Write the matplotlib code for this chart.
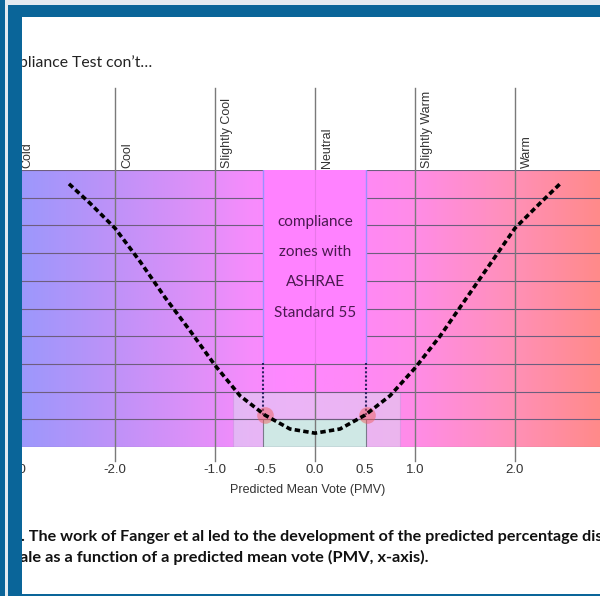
import matplotlib
matplotlib.use("Agg")
import matplotlib.pyplot as plt
import numpy as np
from matplotlib.colors import LinearSegmentedColormap
from matplotlib.patches import Rectangle

# PPD curve (PMV, PPD %)
pmv = [-2.46, -2.25, -2.0, -1.75, -1.5, -1.25, -1.0, -0.75, -0.5, -0.25, 0.0,
       0.25, 0.5, 0.75, 1.0, 1.25, 1.5, 1.75, 2.0, 2.25, 2.45]
ppd = [95, 88, 79, 67, 54, 42, 29.5, 18.5, 11.5, 6.5, 5,
       6.5, 11.5, 18.5, 28.5, 40, 53, 66, 79, 88, 95]

sensation_pos = [-3, -2, -1, 0, 1, 2]
sensation_names = ["Cold", "Cool", "Slightly Cool", "Neutral", "Slightly Warm", "Warm"]

tick_pos = [-3.0, -2.0, -1.0, -0.5, 0.0, 0.5, 1.0, 2.0]
tick_labels = ["-3.0", "-2.0", "-1.0", "-0.5", "0.0", "0.5", "1.0", "2.0"]

zone_lines = ["compliance", "zones with", "ASHRAE", "Standard 55"]

W, H = 600, 596
BLUE = "#0a6599"

fig = plt.figure(figsize=(W / 100, H / 100), dpi=100)
fig.patch.set_facecolor("white")

def px(x0, y0, x1, y1):
    # pixel box (top-left origin) -> figure fraction rect
    return [x0 / W, 1 - y1 / H, (x1 - x0) / W, (y1 - y0) / H]

ax = fig.add_axes(px(15, 170, 600, 447))
ax.set_xlim(-3.0, 2.85)
ax.set_ylim(0, 100)
for s in ax.spines.values():
    s.set_visible(False)

# horizontal colour gradient background
cmap = LinearSegmentedColormap.from_list("pmv", [
    (0.00, "#9a98fc"), (0.17, "#bf92f8"), (0.30, "#dc90f8"),
    (0.40, "#f68cfc"), (0.46, "#ff88ff"), (0.58, "#ff88f8"),
    (0.68, "#ff8ce8"), (0.85, "#ff90b8"), (1.00, "#ff8a8a")])
grad = np.linspace(0, 1, 256).reshape(1, -1)
ax.imshow(grad, cmap=cmap, aspect="auto", extent=(-3.0, 2.85, 0, 100), zorder=0)

# light zone and compliance rectangle
ax.add_patch(Rectangle((-0.82, 0), 1.67, 20, facecolor="#d8e0f0", alpha=0.5,
                       edgecolor="#c890e0", lw=0.8, zorder=1))
ax.add_patch(Rectangle((-0.52, 0), 1.03, 10, facecolor="#cfe8e5",
                       edgecolor="#7a7a8a", lw=0.8, zorder=1.5))

# grid lines
for yv in range(0, 101, 10):
    ax.axhline(yv, color="#6e5e7e", lw=0.8, zorder=2)
for xv in sensation_pos:
    ax.plot([xv, xv], [-5, 129.6], color="#7a7a7a", lw=1.0, zorder=2, clip_on=False)

# text box region (covers the grid)
ax.add_patch(Rectangle((-0.52, 30.5), 1.03, 69.5, facecolor="#ff82ff",
                       edgecolor="none", zorder=3))
ax.plot([0, 0], [30.5, 100], color="#e878e8", lw=0.8, zorder=3.1)
for xv in (-0.52, 0.51):
    ax.plot([xv, xv], [30.5, 100], color="#9a90ff", lw=1.0, zorder=3.2)
    ax.plot([xv, xv], [11.5, 30.5], color="#2a2060", lw=1.5, ls=(0, (1, 1)), zorder=3.2)

for i, t in enumerate(zone_lines):
    ax.text(0.0, [81.2, 70.4, 59.6, 48.4][i], t, ha="center", va="center",
            fontsize=11, color="#4a1a50", family="Lato", zorder=4)

# PPD curve
ax.plot(pmv, ppd, color="black", lw=2.6, ls=(0, (1.5, 0.9)), zorder=5)
ax.plot([-0.5, 0.52], [11.5, 11.5], "o", ms=12, color="#f06060", alpha=0.5,
        mec="none", zorder=4.5)

# sensation labels above the chart
for xv, name in zip(sensation_pos, sensation_names):
    ax.text(xv + 0.06, 100.6, name, rotation=90, ha="left", va="bottom",
            fontsize=9, color="#333333", family="Liberation Sans", clip_on=False)

ax.set_xticks(tick_pos)
ax.set_xticklabels(tick_labels, family="Liberation Sans", fontsize=9.5, color="#333333")
ax.tick_params(axis="x", length=0, pad=12)
ax.set_yticks([])
ax.set_xlabel("Predicted Mean Vote (PMV)", family="Liberation Sans", fontsize=9,
              color="#333333", labelpad=6)

# slide texts
fig.text(19 / W, 1 - 63 / H, "pliance Test con\u2019t\u2026", ha="left", va="center",
         fontsize=11.3, family="Lato", color="#222222", zorder=1)
fig.text(21 / W, 1 - 537 / H, ". The work of Fanger et al led to the development of the predicted percentage dis",
         ha="left", va="center", fontsize=11.6, family="Lato", weight="bold",
         color="#111111", zorder=1)
fig.text(20 / W, 1 - 557 / H, "ale as a function of a predicted mean vote (PMV, x-axis).",
         ha="left", va="center", fontsize=11.8, family="Lato", weight="bold",
         color="#111111", zorder=1)

# slide frame
for rect, col in [(px(0, 0, 600, 5), "#e4ebf1"), (px(5, 0, 8, 596), "#e4ebf1"),
                  (px(0, 0, 5, 596), BLUE), (px(8, 5, 22, 596), BLUE),
                  (px(8, 5, 600, 17), BLUE), (px(8, 594, 600, 596), BLUE)]:
    fig.add_artist(Rectangle((rect[0], rect[1]), rect[2], rect[3], transform=fig.transFigure,
                             facecolor=col, edgecolor="none", zorder=10))

fig.savefig("out.png", dpi=100)
